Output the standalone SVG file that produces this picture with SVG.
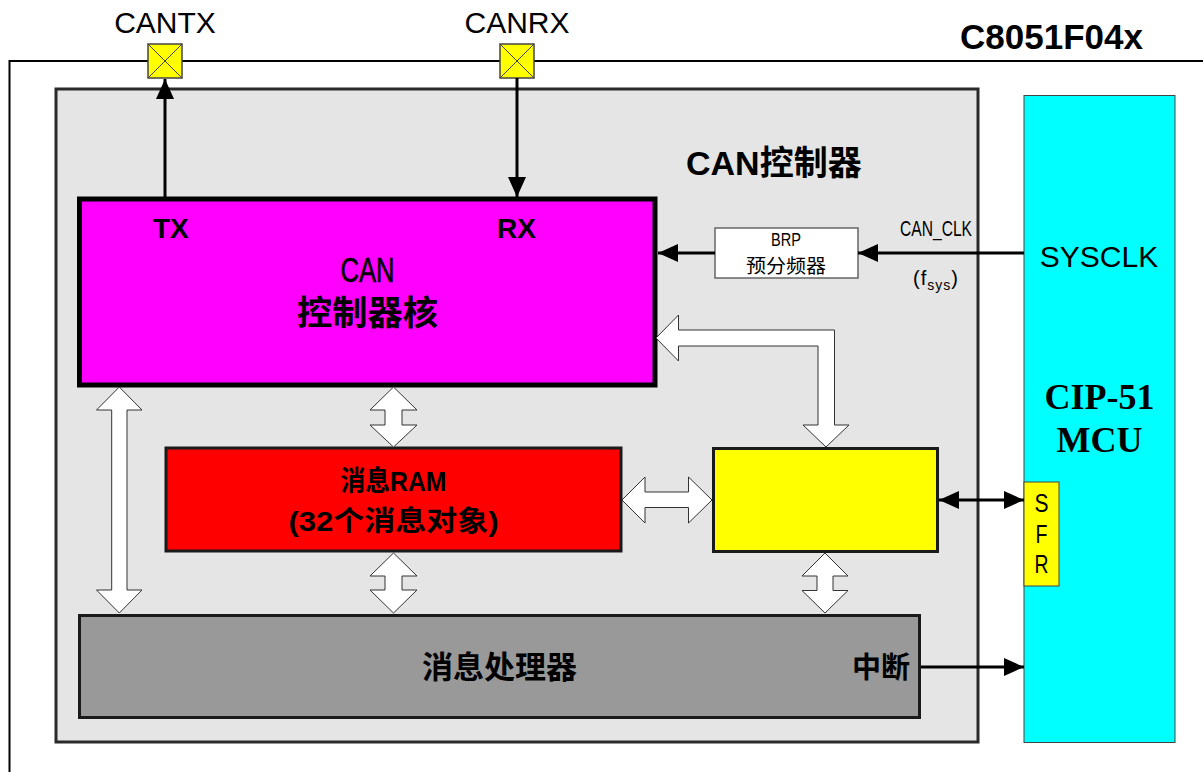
<svg xmlns="http://www.w3.org/2000/svg" width="1203" height="772" viewBox="0 0 1203 772">
<style>
text{font-family:"Liberation Sans","Noto Sans CJK SC",sans-serif;fill:#000}
.b{font-weight:bold}
.cjk{font-family:"Noto Sans CJK SC","Liberation Sans",sans-serif}
.serif{font-family:"Liberation Serif","Noto Sans CJK SC",serif;font-weight:bold}
.box{stroke:#1a1a1a;stroke-width:3}
.bus{fill:#fff;stroke:#333;stroke-width:1}
.wire{stroke:#000;stroke-width:3;fill:none}
.pad{fill:#ffff00;stroke:#444;stroke-width:1.5}
.padx{stroke:#444;stroke-width:1}
</style>
<defs>
<marker id="ah" viewBox="0 0 20 18" refX="20" refY="9" markerWidth="20" markerHeight="18" markerUnits="userSpaceOnUse" orient="auto-start-reverse">
<path d="M0,0 L20,9 L0,18 z" fill="#000"/>
</marker>
</defs>
<rect id="chip" x="9.5" y="61" width="1300" height="800" fill="none" stroke="#000" stroke-width="2"/>
<text x="960" y="49" class="b" font-size="35">C8051F04x</text>
<g id="pad-cantx">
<rect class="pad" x="148" y="44" width="34" height="34"/>
<path class="padx" d="M148,44 L182,78 M182,44 L148,78"/>
<text x="165" y="33" font-size="30" text-anchor="middle">CANTX</text>
</g>
<g id="pad-canrx">
<rect class="pad" x="500" y="44" width="34" height="34"/>
<path class="padx" d="M500,44 L534,78 M534,44 L500,78"/>
<text x="517" y="33" font-size="30" text-anchor="middle">CANRX</text>
</g>
<g id="can-controller">
<rect x="56" y="89" width="922" height="653" fill="#e5e5e5" stroke="#2a2a2a" stroke-width="3"/>
<text x="686" y="175" class="b" font-size="34">CAN控制器</text>
</g>
<g id="can-core">
<rect x="79.5" y="199" width="575.5" height="186" fill="#ff00ff" stroke="#000" stroke-width="5"/>
<text x="153" y="238" class="b" font-size="28">TX</text>
<text x="497" y="238" class="b" font-size="28">RX</text>
<text x="367.5" y="282" font-size="35" text-anchor="middle" textLength="54" lengthAdjust="spacingAndGlyphs" stroke="#000" stroke-width="0.6">CAN</text>
<text x="367.5" y="325" class="cjk b" font-size="34" text-anchor="middle" textLength="141" lengthAdjust="spacingAndGlyphs">控制器核</text>
</g>
<g id="brp">
<rect x="715" y="228" width="143" height="50" fill="#fff" stroke="#666" stroke-width="1.5"/>
<text x="786" y="246" font-size="19" text-anchor="middle" textLength="30" lengthAdjust="spacingAndGlyphs">BRP</text>
<text x="786" y="273" class="cjk" font-size="19" text-anchor="middle" textLength="80" lengthAdjust="spacingAndGlyphs">预分频器</text>
</g>
<g id="msg-ram">
<rect class="box" x="166" y="448" width="455" height="103" fill="#ff0000"/>
<text x="393.5" y="491" class="b" font-size="28" text-anchor="middle" textLength="106" lengthAdjust="spacingAndGlyphs">消息RAM</text>
<text x="393.5" y="531" class="b" font-size="28" text-anchor="middle" textLength="210" lengthAdjust="spacingAndGlyphs">(32个消息对象)</text>
</g>
<g id="if-regs">
<rect class="box" x="713.5" y="448.5" width="224" height="103" fill="#ffff00"/>
</g>
<g id="msg-handler">
<rect class="box" x="79.5" y="615.5" width="840" height="102" fill="#999999"/>
<text x="499.5" y="678" class="cjk b" font-size="31" text-anchor="middle">消息处理器</text>
<text x="852" y="678" class="cjk b" font-size="29">中断</text>
</g>
<g id="cip51">
<rect x="1024" y="95.5" width="151" height="647" fill="#00ffff" stroke="#444" stroke-width="1"/>
<text x="1099" y="267" font-size="30" text-anchor="middle">SYSCLK</text>
<text x="1099.5" y="409" class="serif" font-size="36" text-anchor="middle">CIP-51</text>
<text x="1099.5" y="452" class="serif" font-size="36" text-anchor="middle">MCU</text>
</g>
<g id="sfr">
<rect x="1024" y="482" width="35" height="104" fill="#ffff00" stroke="#444" stroke-width="1"/>
<text x="1041.5" y="512" font-size="25" text-anchor="middle" textLength="14" lengthAdjust="spacingAndGlyphs">S</text>
<text x="1041.5" y="543" font-size="25" text-anchor="middle" textLength="12" lengthAdjust="spacingAndGlyphs">F</text>
<text x="1041.5" y="573" font-size="25" text-anchor="middle" textLength="14" lengthAdjust="spacingAndGlyphs">R</text>
</g>
<g id="connectors">
<line class="wire" x1="165" y1="198" x2="165" y2="79" marker-end="url(#ah)"/>
<line class="wire" x1="517" y1="78" x2="517" y2="197" marker-end="url(#ah)"/>
<line class="wire" x1="1024" y1="253" x2="858" y2="253" marker-end="url(#ah)"/>
<line class="wire" x1="715" y1="253" x2="658" y2="253" marker-end="url(#ah)"/>
<line class="wire" x1="939" y1="500" x2="1024" y2="500" marker-start="url(#ah)" marker-end="url(#ah)"/>
<line class="wire" x1="921" y1="667" x2="1024" y2="667" marker-end="url(#ah)"/>
<polygon class="bus" points="656,338 678.5,315 678.5,330 834.5,330 834.5,425 849,425 826,447 803,425 818,425 818,346 678.5,346 678.5,361"/>
<polygon class="bus" points="119.3,387 142,410 127,410 127,590 142,590 119.3,613 96.5,590 111.7,590 111.7,410 96.5,410"/>
<polygon class="bus" points="393.5,387 417,410 402,410 402,425 417,425 393.5,447 370,425 385,425 385,410 370,410"/>
<polygon class="bus" points="393.5,553 417,576 402,576 402,590 417,590 393.5,613 370,590 385,590 385,576 370,576"/>
<polygon class="bus" points="825,553 848,576 833,576 833,590.5 848,590.5 825,613 802,590.5 817,590.5 817,576 802,576"/>
<polygon class="bus" points="622,500 645,477 645,492 688.5,492 688.5,477 712,500 688.5,523 688.5,507.5 645,507.5 645,523"/>
<text x="900" y="236" font-size="22" textLength="72" lengthAdjust="spacingAndGlyphs">CAN_CLK</text>
<text x="913" y="285" font-size="20" letter-spacing="1">(f<tspan font-size="14" dy="5">sys</tspan><tspan dy="-5">)</tspan></text>
</g>
</svg>
